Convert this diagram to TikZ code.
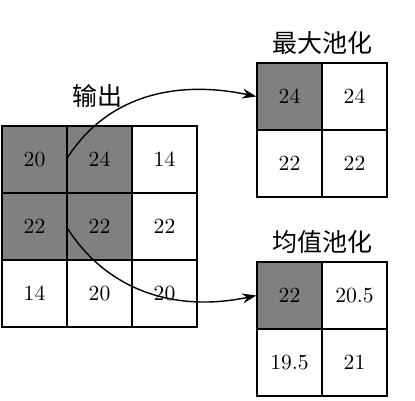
\documentclass[tikz,border=0pt]{standalone}
\usepackage{fontspec}
\usepackage{tikz}
\usetikzlibrary{positioning,arrows.meta}
\newfontfamily\cjk{Noto Sans CJK SC}
\definecolor{poolGray}{HTML}{808080}

\begin{document}
\begin{tikzpicture}[x=0.5pt, y=-0.5pt,
    cell/.style={draw, line width=0.7pt, minimum width=32.5pt, minimum height=33.5pt, inner sep=0pt, font=\fontsize{10.8}{13}\selectfont},
    title/.style={font=\cjk\fontsize{12.5}{15}\selectfont},
    flow/.style={line width=0.7pt, -{Stealth[length=7pt, width=5pt]}}]
    \useasboundingbox (0,0) rectangle (415,400);
    % convolution output
    \foreach \row [count=\r] in {{20/poolGray,24/poolGray,14/white},{22/poolGray,22/poolGray,22/white},{14/white,20/white,20/white}} {
        \foreach \v/\f [count=\c] in \row {
            \node[cell, fill=\f] (out-\r-\c) at ({2+65*(\c-0.5)},{126+67*(\r-0.5)}) {\v};
        }
    }
    % max pooling
    \foreach \row [count=\r] in {{24/poolGray,24/white},{22/white,22/white}} {
        \foreach \v/\f [count=\c] in \row {
            \node[cell, fill=\f] (max-\r-\c) at ({257+65*(\c-0.5)},{63+67*(\r-0.5)}) {\v};
        }
    }
    % average pooling
    \foreach \row [count=\r] in {{22/poolGray,20.5/white},{19.5/white,21/white}} {
        \foreach \v/\f [count=\c] in \row {
            \node[cell, fill=\f] (avg-\r-\c) at ({257+65*(\c-0.5)},{262+67*(\r-0.5)}) {\v};
        }
    }
    \node[title] (outTitle) at (97,96) {输出};
    \node[title] (maxTitle) at (322,43) {最大池化};
    \node[title] (avgTitle) at (322,242) {均值池化};
    \draw[flow] (out-1-2.west) to[out=58, in=168] (max-1-1.west);
    \draw[flow] (out-2-2.west) to[out=-58, in=192] (avg-1-1.west);
\end{tikzpicture}
\end{document}
